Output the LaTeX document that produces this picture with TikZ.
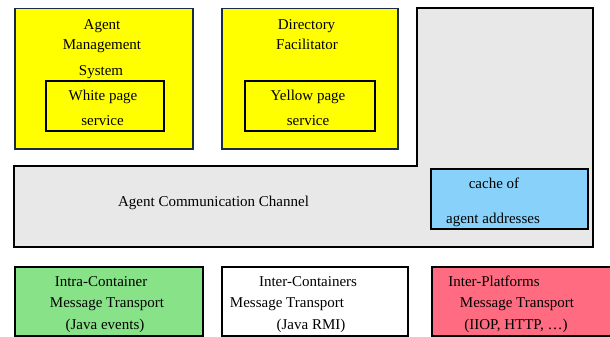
\documentclass[tikz,border=0pt]{standalone}
\usepackage{fontspec}
\setmainfont{Liberation Serif}
\definecolor{ybox}{HTML}{FFFF00}
\definecolor{ybord}{HTML}{1C2A4A}
\definecolor{accgray}{HTML}{E8E8E8}
\definecolor{cacheblue}{HTML}{87D1FA}
\definecolor{intragreen}{HTML}{88E388}
\definecolor{interred}{HTML}{FF6B80}
\begin{document}
\begin{tikzpicture}[x=1pt,y=-1pt,
  box/.style={draw=black, line width=1.5pt, anchor=north west, inner sep=0pt},
  lbl/.style={font=\fontsize{15}{17}\selectfont, inner sep=0pt, anchor=base}]
\useasboundingbox (0,0) rectangle (610,337);
% top boxes
\node[box, draw=ybord, fill=ybox, minimum width=178pt, minimum height=140pt] (ams) at (14,8) {};
\node[box, fill=ybox, minimum width=118pt, minimum height=50pt] (wps) at (45,80) {};
\node[box, draw=ybord, fill=ybox, minimum width=176pt, minimum height=140pt] (df) at (221,8) {};
\node[box, fill=ybox, minimum width=130pt, minimum height=50pt] (yps) at (244,80) {};
% agent communication channel
\draw[line width=1.5pt, fill=accgray] (417,8) -- (593,8) -- (593,247) -- (14,247) -- (14,166) -- (417,166) -- cycle;
\node[box, fill=cacheblue, minimum width=157pt, minimum height=60pt] (cache) at (430,168) {};
% bottom boxes
\node[box, fill=intragreen, minimum width=188pt, minimum height=69pt] (intra) at (14,266) {};
\node[box, fill=white, minimum width=186pt, minimum height=69pt] (inter) at (221,266) {};
\node[box, fill=interred, minimum width=200pt, minimum height=69pt] (plat) at (431,266) {};
% labels
\node[lbl] (t1) at (102,30) {Agent};
\node[lbl] (t2) at (102,50) {Management};
\node[lbl] (t3) at (101,75) {System};
\node[lbl] (t4) at (103,100) {White page};
\node[lbl] (t5) at (102.5,125) {service};
\node[lbl] (t6) at (306.5,30) {Directory};
\node[lbl] (t7) at (307,50) {Facilitator};
\node[lbl] (t8) at (308,100) {Yellow page};
\node[lbl] (t9) at (308,125) {service};
\node[lbl] (t10) at (213.5,206) {Agent Communication Channel};
\node[lbl] (t11) at (494,188) {cache of};
\node[lbl] (t12) at (493,223) {agent addresses};
\node[lbl] (t13) at (101,286) {Intra-Container};
\node[lbl] (t14) at (107,307) {Message Transport};
\node[lbl] (t15) at (105,329.5) {(Java events)};
\node[lbl] (t16) at (308,286) {Inter-Containers};
\node[lbl] (t17) at (287,307) {Message Transport};
\node[lbl] (t18) at (311,329.5) {(Java RMI)};
\node[lbl] (t19) at (494,286) {Inter-Platforms};
\node[lbl] (t20) at (517,307) {Message Transport};
\node[lbl] (t21) at (516,329.5) {(IIOP, HTTP, \ldots)};
\end{tikzpicture}
\end{document}
